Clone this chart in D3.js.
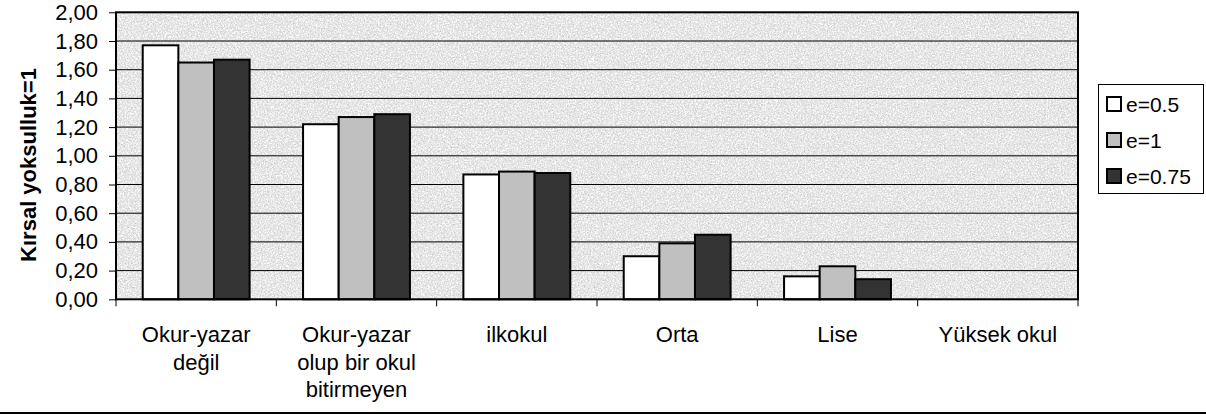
<!DOCTYPE html>
<html><head><meta charset="utf-8">
<script src="https://cdn.jsdelivr.net/npm/d3@7"></script>
<style>body{margin:0;background:#fff}svg{display:block}text{font-family:"Liberation Sans",Arial,sans-serif}</style>
</head><body><svg id="c" width="1206" height="415"></svg>
<script>
const categories = ["Okur-yazar\ndeğil","Okur-yazar\nolup bir okul\nbitirmeyen","ilkokul","Orta","Lise","Yüksek okul"];
const seriesNames = ["e=0.5","e=1","e=0.75"];
const e05 = [1.77,1.22,0.87,0.30,0.16,0];
const e1 = [1.65,1.27,0.89,0.39,0.23,0];
const e075 = [1.67,1.29,0.88,0.45,0.14,0];
const yTicks = [0,0.2,0.4,0.6,0.8,1.0,1.2,1.4,1.6,1.8,2.0];
const yTitle = "Kırsal yoksulluk=1";
const colors = ["#ffffff","#c0c0c0","#333333"];
const seriesValues = [e05,e1,e075];

const svg = d3.select("#c");
const L=116, R=1078, T=12.3, B=299.3;
const defs = svg.append("defs");
const fd = defs.append("filter").attr("id","noiseD").attr("x",0).attr("y",0).attr("width","100%").attr("height","100%");
fd.append("feTurbulence").attr("type","fractalNoise").attr("baseFrequency","0.7").attr("numOctaves",2).attr("seed",7);
fd.append("feColorMatrix").attr("type","matrix").attr("values","0 0 0 0 0.62  0 0 0 0 0.6  0 0 0 0 0.62  3.2 0 0 0 -1.55");
const fl = defs.append("filter").attr("id","noiseL").attr("x",0).attr("y",0).attr("width","100%").attr("height","100%");
fl.append("feTurbulence").attr("type","fractalNoise").attr("baseFrequency","0.6").attr("numOctaves",2).attr("seed",19);
fl.append("feColorMatrix").attr("type","matrix").attr("values","0 0 0 0 1  0 0 0 0 1  0 0 0 0 1  0 3.2 0 0 -1.35");

const x0 = d3.scaleBand().domain(categories).range([L,R]).padding(0);
const x1 = d3.scaleBand().domain(seriesNames).range([0,x0.bandwidth()]).paddingInner(0).paddingOuter(0.75);
const y = d3.scaleLinear().domain([0,2]).range([B,T]);
const fmt = v => d3.format(".2f")(v).replace(".",",");

// background
svg.append("rect").attr("x",L).attr("y",T).attr("width",R-L).attr("height",B-T).attr("fill","#e4e4e4");
svg.append("rect").attr("x",L).attr("y",T).attr("width",R-L).attr("height",B-T).attr("fill","#fff").attr("filter","url(#noiseL)");
svg.append("rect").attr("x",L).attr("y",T).attr("width",R-L).attr("height",B-T).attr("fill","#fff").attr("filter","url(#noiseD)");

// gridlines
svg.append("g").selectAll("line").data(yTicks.filter(v=>v>0&&v<2)).join("line")
  .attr("x1",L).attr("x2",R).attr("y1",d=>y(d)).attr("y2",d=>y(d)).attr("stroke","#000").attr("stroke-width",1);

// bars
const data = categories.map((c,i)=>({c, vals: seriesNames.map((s,j)=>({s, v: seriesValues[j][i], j}))}));
svg.append("g").selectAll("g").data(data).join("g").attr("transform",d=>`translate(${x0(d.c)},0)`)
  .selectAll("rect").data(d=>d.vals.filter(v=>v.v>0)).join("rect")
  .attr("x",d=>x1(d.s)).attr("width",x1.bandwidth()).attr("y",d=>y(d.v)).attr("height",d=>B-y(d.v))
  .attr("fill",d=>colors[d.j]).attr("stroke","#000").attr("stroke-width",2);

// plot border
svg.append("rect").attr("x",L).attr("y",T).attr("width",R-L).attr("height",B-T).attr("fill","none").attr("stroke","#000").attr("stroke-width",2);

// y axis
const ya = svg.append("g").attr("transform",`translate(${L},0)`)
  .call(d3.axisLeft(y).tickValues(yTicks).tickFormat(fmt).tickSize(7).tickPadding(11));
ya.select(".domain").remove();
ya.selectAll("line").attr("stroke","#000");
ya.selectAll("text").attr("font-size",22).attr("fill","#000");

// x axis ticks at category boundaries
const bounds = categories.map(c=>x0(c)).concat([R]);
svg.append("g").selectAll("line").data(bounds).join("line")
  .attr("x1",d=>d).attr("x2",d=>d).attr("y1",B).attr("y2",B+7).attr("stroke","#000");

// x labels
const xl = svg.append("g").selectAll("text").data(categories).join("text")
  .attr("x",d=>x0(d)+x0.bandwidth()/2).attr("y",342).attr("text-anchor","middle").attr("font-size",22);
xl.each(function(d){
  const t=d3.select(this);
  d.split("\n").forEach((ln,i)=>t.append("tspan").attr("x",x0(d)+x0.bandwidth()/2).attr("dy",i?27.5:0).text(ln));
});

// y title
svg.append("text").attr("transform","translate(36,165) rotate(-90)").attr("text-anchor","middle")
  .attr("font-size",22).attr("font-weight","bold").text(yTitle);

// legend
const lg = svg.append("g");
lg.append("rect").attr("x",1098.5).attr("y",84.5).attr("width",105).attr("height",109).attr("fill","#fff").attr("stroke","#000").attr("stroke-width",1);
const li = lg.selectAll("g").data(seriesNames).join("g").attr("transform",(d,i)=>`translate(1107,${104+i*36})`);
li.append("rect").attr("x",0).attr("y",-7).attr("width",14).attr("height",14).attr("fill",(d,i)=>colors[i]).attr("stroke","#000").attr("stroke-width",2);
li.append("text").attr("x",19).attr("y",0).attr("dy","0.36em").attr("font-size",21).text(d=>d);

// bottom line
svg.append("line").attr("x1",0).attr("x2",1206).attr("y1",413).attr("y2",413).attr("stroke","#000").attr("stroke-width",2);
</script></body></html>
